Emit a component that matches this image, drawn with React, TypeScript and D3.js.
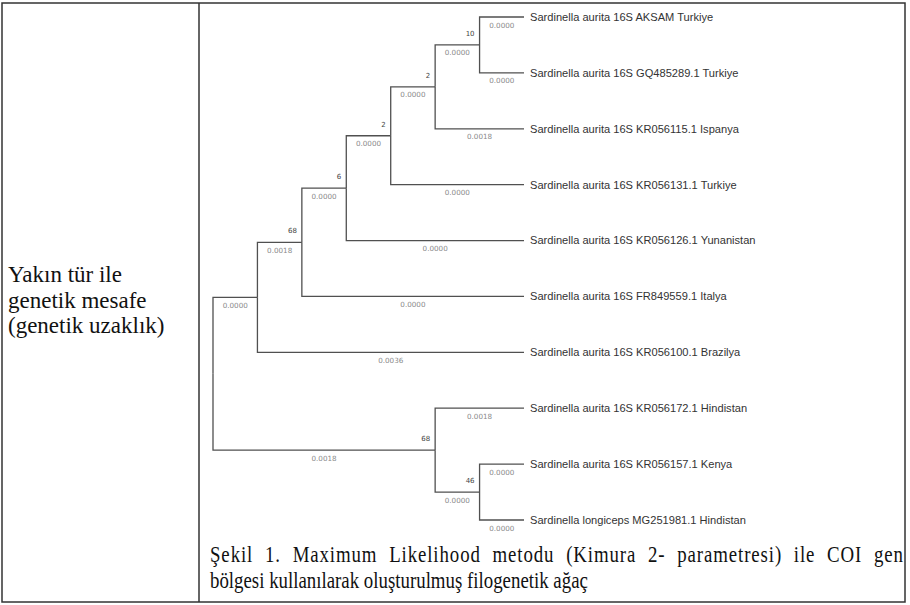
import { useRef, useEffect } from "react";
import * as d3 from "d3";

// tree topology (MEGA style cladogram)
const cladeIds = ["root", "A", "B", "C", "D", "E", "F", "G", "H"];
const cladeParents = ["", "root", "A", "B", "C", "D", "E", "root", "G"];
const cladeBootstrap = [null, null, 68, 6, 2, 2, 10, 68, 46];
const cladeLengths = ["", "0.0000", "0.0018", "0.0000", "0.0000", "0.0000", "0.0000", "0.0018", "0.0000"];

const taxa = [
  "Sardinella aurita 16S AKSAM Turkiye",
  "Sardinella aurita 16S GQ485289.1 Turkiye",
  "Sardinella aurita 16S KR056115.1 Ispanya",
  "Sardinella aurita 16S KR056131.1 Turkiye",
  "Sardinella aurita 16S KR056126.1 Yunanistan",
  "Sardinella aurita 16S FR849559.1 Italya",
  "Sardinella aurita 16S KR056100.1 Brazilya",
  "Sardinella aurita 16S KR056172.1 Hindistan",
  "Sardinella aurita 16S KR056157.1 Kenya",
  "Sardinella longiceps MG251981.1 Hindistan",
];
const taxonParents = ["F", "F", "E", "D", "C", "B", "A", "G", "H", "H"];
const taxonLengths = ["0.0000", "0.0000", "0.0018", "0.0000", "0.0000", "0.0000", "0.0036", "0.0018", "0.0000", "0.0000"];

const leftLines = ["Yakın tür ile", "genetik mesafe", "(genetik uzaklık)"];
const captionLines = [
  "Şekil 1. Maximum Likelihood metodu (Kimura 2- parametresi) ile COI gen",
  "bölgesi kullanılarak oluşturulmuş filogenetik ağaç",
];

const W = 910;
const H = 605;

export default function App() {
  const ref = useRef<SVGSVGElement>(null);

  useEffect(() => {
    const svg = d3.select(ref.current);
    svg.selectAll("*").remove();

    // table frame
    const frame = svg.append("g").attr("fill", "none").attr("stroke", "#333").attr("stroke-width", 1.5);
    frame.append("rect").attr("x", 2).attr("y", 3).attr("width", 903).attr("height", 599);
    frame.append("line").attr("x1", 199).attr("x2", 199).attr("y1", 3).attr("y2", 602);

    svg.append("text")
      .attr("font-family", "'Liberation Serif', 'Times New Roman', serif")
      .attr("font-size", 23)
      .attr("fill", "#111")
      .selectAll("tspan")
      .data(leftLines)
      .join("tspan")
      .attr("x", 8)
      .attr("y", (d, i) => 282 + i * 25.5)
      .text((d) => d);

    const rows = [
      ...cladeIds.map((id, i) => ({ id, parent: cladeParents[i], boot: cladeBootstrap[i], len: cladeLengths[i], leaf: -1 })),
      ...taxa.map((id, i) => ({ id, parent: taxonParents[i], boot: null, len: taxonLengths[i], leaf: i })),
    ];

    const root = d3.stratify<any>()
      .id((d) => d.id)
      .parentId((d) => d.parent || null)(rows);

    const minLeaf = (n: any): number => n.leaves().reduce((m: number, l: any) => Math.min(m, l.data.leaf), 99);
    root.sort((a: any, b: any) => minLeaf(a) - minLeaf(b));

    d3.cluster().size([1, 1]).separation(() => 1)(root as any);

    const yScale = d3.scaleLinear().domain([0.05, 0.95]).range([17, 520]);
    const xScale = d3.scaleLinear().domain([0, 1]).range([213, 524]);

    const tree = svg.append("g");
    const nodes = root.descendants() as any[];

    tree.append("g")
      .attr("fill", "none")
      .attr("stroke", "#505050")
      .attr("stroke-width", 1.3)
      .selectAll("path")
      .data(nodes.filter((d) => d.parent))
      .join("path")
      .attr("d", (d) => `M${xScale(d.parent.y)},${yScale(d.parent.x)}V${yScale(d.x)}H${xScale(d.y)}`);

    tree.append("g")
      .attr("font-family", "'DejaVu Sans', Verdana, sans-serif")
      .attr("font-size", 7.2)
      .attr("fill", "#8a8a8a")
      .attr("text-anchor", "middle")
      .selectAll("text")
      .data(nodes.filter((d) => d.parent))
      .join("text")
      .attr("x", (d) => (xScale(d.parent.y) + xScale(d.y)) / 2)
      .attr("y", (d) => yScale(d.x) + 10.5)
      .text((d) => d.data.len);

    tree.append("g")
      .attr("font-family", "'DejaVu Sans', Verdana, sans-serif")
      .attr("font-size", 7)
      .attr("fill", "#444")
      .attr("text-anchor", "end")
      .selectAll("text")
      .data(nodes.filter((d) => d.data.boot != null))
      .join("text")
      .attr("x", (d) => xScale(d.y) - 5)
      .attr("y", (d) => yScale(d.x) - 9)
      .text((d) => d.data.boot);

    tree.append("g")
      .attr("font-family", "'Liberation Sans', Arial, sans-serif")
      .attr("font-size", 11.1)
      .attr("fill", "#333")
      .selectAll("text")
      .data(root.leaves() as any[])
      .join("text")
      .attr("x", (d) => xScale(d.y) + 6)
      .attr("y", (d) => yScale(d.x))
      .attr("dy", "0.35em")
      .text((d) => d.data.id);

    // caption: condensed serif, first line justified across the cell
    const sx = 0.82;
    const cap = svg.append("g")
      .attr("transform", `translate(210,0) scale(${sx},1)`)
      .attr("font-family", "'Liberation Serif', 'Times New Roman', serif")
      .attr("font-size", 23)
      .attr("fill", "#111");
    const first = cap.append("text").attr("x", 0).attr("y", 562).text(captionLines[0]);
    const node = first.node() as SVGTextElement;
    const gaps = captionLines[0].split(" ").length - 1;
    const chars = captionLines[0].length - 1;
    const spare = (903 - 210) / sx - node.getComputedTextLength();
    const ls = (spare * 0.5) / chars;
    first.attr("letter-spacing", ls).attr("word-spacing", (spare * 0.5) / gaps);
    cap.append("text").attr("x", 0).attr("y", 588).text(captionLines[1]);
  }, []);

  return (
    <svg
      ref={ref}
      width={W}
      height={H}
      style={{ position: "absolute", left: 0, top: 0, background: "white" }}
    />
  );
}
